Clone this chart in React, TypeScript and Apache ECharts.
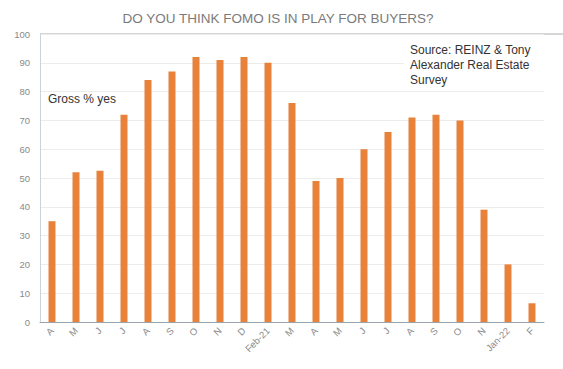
import React, { useEffect, useRef } from "react";
import * as echarts from "echarts";

const categories = ["A", "M", "J", "J", "A", "S", "O", "N", "D", "Feb-21", "M", "A", "M", "J", "J", "A", "S", "O", "N", "Jan-22", "F"];
const grossYes = [35, 52, 52.5, 72, 84, 87, 92, 91, 92, 90, 76, 49, 50, 60, 66, 71, 72, 70, 39, 20, 6.5];
const titleText = "DO YOU THINK FOMO IS IN PLAY FOR BUYERS?";
const sourceText = "Source: REINZ & Tony\nAlexander Real Estate\nSurvey";
const seriesLabel = "Gross % yes";

export default function App() {
  const ref = useRef<HTMLDivElement>(null);
  useEffect(() => {
    if (!ref.current) return;
    const chart = echarts.init(ref.current, undefined, { renderer: "svg" });
    chart.setOption({
      animation: false,
      backgroundColor: "#ffffff",
      title: {
        text: titleText,
        left: 273,
        textAlign: "center",
        top: 6,
        textStyle: { fontFamily: "Liberation Sans, Arial", fontSize: 13.5, fontWeight: "normal", color: "#7a7a7a" },
      },
      grid: { left: 40, right: 19, top: 34, bottom: 47 },
      xAxis: {
        type: "category",
        data: categories,
        axisLine: { show: true, lineStyle: { color: "#9aa3ad", width: 1 } },
        axisTick: { show: false },
        axisLabel: {
          rotate: 45,
          interval: 0,
          fontSize: 9.5,
          color: "#8a8a8a",
          fontFamily: "Liberation Sans, Arial",
          margin: 7,
        },
      },
      yAxis: {
        type: "value",
        min: 0,
        max: 100,
        interval: 10,
        axisLine: { show: true, lineStyle: { color: "#c9d3df", width: 1 } },
        axisTick: { show: false },
        axisLabel: { fontSize: 9.5, color: "#8a8a8a", fontFamily: "Liberation Sans, Arial", margin: 10 },
        splitLine: { show: true, lineStyle: { color: "#ececec", width: 1 } },
      },
      series: [
        {
          type: "bar",
          name: seriesLabel,
          data: grossYes,
          barWidth: 7,
          itemStyle: { color: "#e8813a" },
        },
      ],
      graphic: [
        { type: "line", shape: { x1: 40, y1: 34, x2: 563, y2: 34 }, style: { stroke: "#c8c8c8", lineWidth: 1.5 } },
        { type: "rect", shape: { x: 404, y: 38, width: 146, height: 50 }, style: { fill: "#ffffff" }, z: 10 },
        {
          type: "text",
          left: 48,
          top: 93,
          z: 11,
          style: { text: seriesLabel, fontSize: 12, fill: "#333333", fontFamily: "Liberation Sans, Arial" },
        },
        {
          type: "text",
          left: 410,
          top: 42,
          z: 11,
          style: {
            text: sourceText,
            fontSize: 12,
            lineHeight: 15,
            fill: "#333333",
            fontFamily: "Liberation Sans, Arial",
          },
        },
      ],
    });
    return () => chart.dispose();
  }, []);
  return <div ref={ref} style={{ width: 563, height: 369, position: "absolute", left: 0, top: 0 }} />;
}
